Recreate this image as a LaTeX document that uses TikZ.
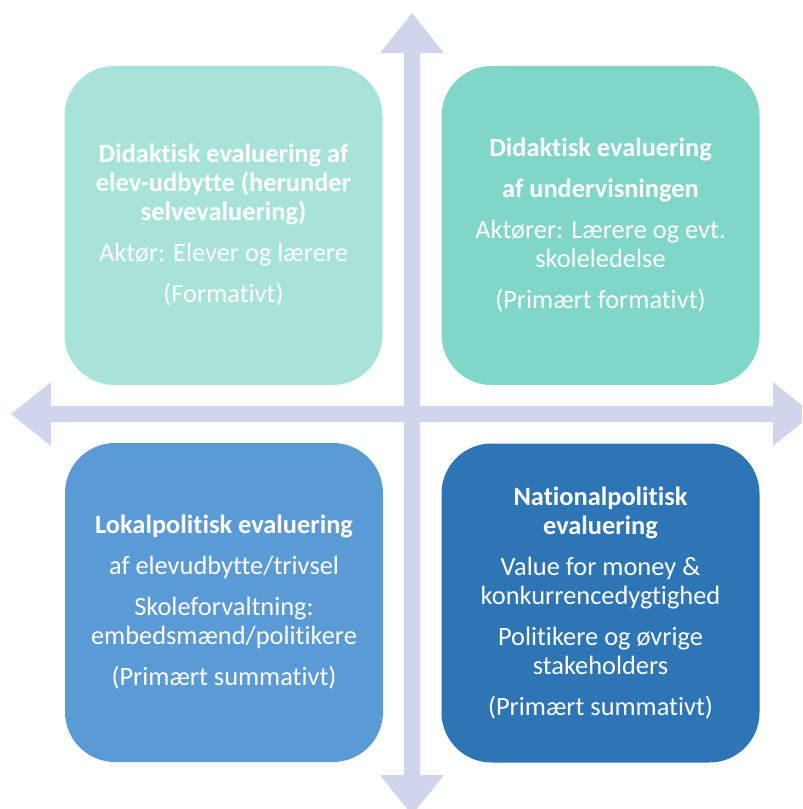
\documentclass[tikz,border=0pt]{standalone}
\usepackage{fontspec}
\setmainfont{Carlito}[Ligatures=NoCommon]
\definecolor{axiscol}{HTML}{CFD5EA}
\definecolor{tealpale}{HTML}{A7E3D9}
\definecolor{tealmid}{HTML}{80D6C7}
\definecolor{bluemid}{HTML}{5B9BD5}
\definecolor{bluedeep}{HTML}{2E75B6}
\tikzset{
  quad/.style={rectangle, rounded corners=37.5pt, draw=none, inner sep=0pt,
    minimum width=238.5pt, minimum height=239.25pt, text=white, align=center,
    font=\fontsize{19.8}{21.75}\selectfont},
  axis/.style={fill=axiscol, draw=none}
}
\begin{document}
\begin{tikzpicture}[x=0.75pt,y=-0.75pt]
\useasboundingbox (0,0) rectangle (802,809);
\clip (0,0) rectangle (802,809);

% crossing double-headed axes
\fill[axis] (11,414) -- (51,382) -- (51,406) -- (773,406) -- (773,382) -- (813,414)
  -- (773,446) -- (773,422) -- (51,422) -- (51,446) -- cycle;
\fill[axis] (412,13) -- (444,53) -- (420,53) -- (420,775) -- (444,775) -- (412,815)
  -- (380,775) -- (404,775) -- (404,53) -- (380,53) -- cycle;

% four quadrant boxes
\node[quad, fill=tealpale] (tl) at (223.5,225.5)
  {\textbf{Didaktisk evaluering af}\\\textbf{elev-udbytte (herunder}\\\textbf{selvevaluering)}\\[9pt]
   Aktør: Elever og lærere\\[9pt](Formativt)};
\node[quad, fill=tealmid] (tr) at (600.5,225.5)
  {\textbf{Didaktisk evaluering}\\[9pt]\textbf{af undervisningen}\\[9pt]
   Aktører: Lærere og evt.\\skoleledelse\\[9pt](Primært formativt)};
\node[quad, fill=bluemid] (bl) at (224,602.5)
  {\textbf{Lokalpolitisk evaluering}\\[9pt]af elevudbytte/trivsel\\[9pt]
   Skoleforvaltning:\\embedsmænd/politikere\\[9pt](Primært summativt)};
\node[quad, fill=bluedeep] (br) at (600.5,603)
  {\textbf{Nationalpolitisk}\\\textbf{evaluering}\\[9pt]
   Value for money \&\\konkurrencedygtighed\\[9pt]
   Politikere og øvrige\\stakeholders\\[9pt](Primært summativt)};
\end{tikzpicture}
\end{document}
